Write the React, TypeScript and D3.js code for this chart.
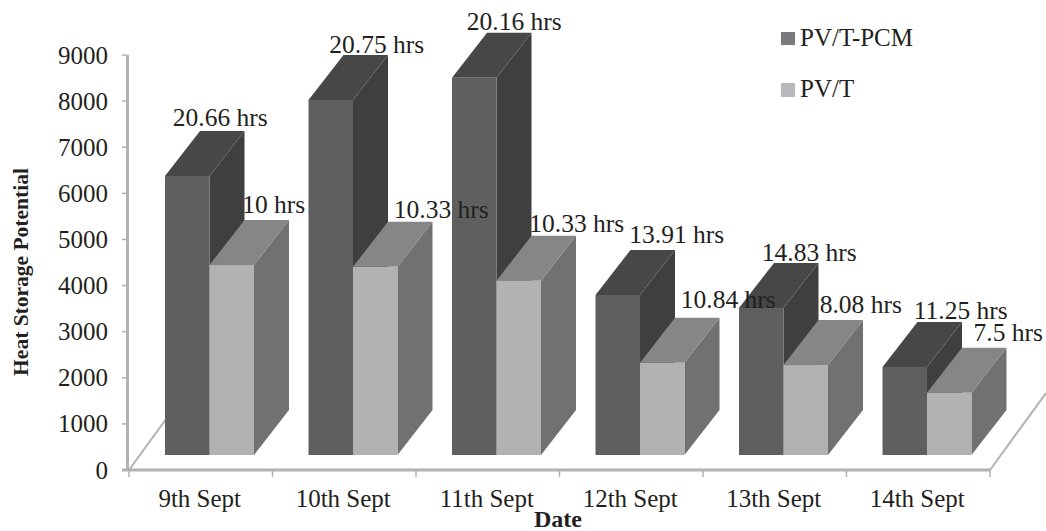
import React from "react";
import * as d3 from "d3";

const dates = ["9th Sept", "10th Sept", "11th Sept", "12th Sept", "13th Sept", "14th Sept"];
const pvtPcm = [6050, 7700, 8180, 3470, 3190, 1910];
const pvt = [4120, 4080, 3780, 2000, 1950, 1350];
const pvtPcmHours = ["20.66 hrs", "20.75 hrs", "20.16 hrs", "13.91 hrs", "14.83 hrs", "11.25 hrs"];
const pvtHours = ["10 hrs", "10.33 hrs", "10.33 hrs", "10.84 hrs", "8.08 hrs", "7.5 hrs"];
const yTicks = [0, 1000, 2000, 3000, 4000, 5000, 6000, 7000, 8000, 9000];

// Hand placement of the duration labels relative to the back edge of each bar top.
const pcmLabelShift: [number, number][] = [[-2, -5], [11, -2], [5, -3], [24, -7], [13, -2], [21, -3]];
const pvtLabelShift: [number, number][] = [[7, -7], [31, -4], [23, -4], [31, -10], [20, -7], [24, -7]];

const WIDTH = 1046;
const HEIGHT = 531;
const FONT = "'Liberation Serif', serif";
const AXIS_GREY = "#b2b2b2";
const DEPTH_X = 35;
const DEPTH_Y = 45;
const BAR_W = 44.5;

const PCM_COLORS = { front: "#5f5f5f", top: "#464847", side: "#3f3f3f" };
const PVT_COLORS = { front: "#b2b2b2", top: "#868686", side: "#717171" };
const LEGEND_COLORS = ["#7a7a7e", "#b8b8bc"];

const xAxis = d3.scaleBand<string>().domain(dates).range([129, 990]);
const yAxis = d3.scaleLinear().domain([0, 9000]).range([470, 55]);
const floorY = 455;
const barHeight = (v: number) => yAxis(0) - yAxis(v);
const barLeft = (d: string) => (xAxis(d) as number) + 36;

type Colors = typeof PCM_COLORS;

function Bar({ x, value, colors }: { x: number; value: number; colors: Colors }) {
  const top = floorY - barHeight(value);
  const r = x + BAR_W;
  const pts = (p: number[][]) => p.map((q) => q.join(",")).join(" ");
  return (
    <g>
      <polygon
        fill={colors.side}
        points={pts([[r, top], [r + DEPTH_X, top - DEPTH_Y], [r + DEPTH_X, floorY - DEPTH_Y], [r, floorY]])}
      />
      <polygon
        fill={colors.top}
        points={pts([[x, top], [x + DEPTH_X, top - DEPTH_Y], [r + DEPTH_X, top - DEPTH_Y], [r, top]])}
      />
      <rect x={x} y={top} width={BAR_W} height={barHeight(value)} fill={colors.front} />
    </g>
  );
}

export default function App() {
  const textStyle = { fontFamily: FONT, fill: "#231f20" };
  const labelFor = (i: number, value: number, offset: number, shift: [number, number]) => ({
    x: barLeft(dates[i]) + offset + BAR_W / 2 + DEPTH_X + shift[0],
    y: floorY - barHeight(value) - DEPTH_Y + shift[1],
  });
  return (
    <svg
      width={WIDTH}
      height={HEIGHT}
      style={{ position: "absolute", left: 0, top: 0, background: "#fff" }}
    >
      {/* Floor outline and axes */}
      <g stroke={AXIS_GREY} fill="none">
        <line x1={127.5} y1={yAxis(9000)} x2={127.5} y2={yAxis(0)} strokeWidth={3} />
        <line x1={122} y1={yAxis(0)} x2={990} y2={yAxis(0)} strokeWidth={3} />
        <line x1={129} y1={yAxis(0)} x2={185} y2={393} strokeWidth={2} />
        <line x1={990} y1={yAxis(0)} x2={1046} y2={393} strokeWidth={2} />
        {yTicks.map((t) => (
          <line key={t} x1={122} x2={127} y1={yAxis(t)} y2={yAxis(t)} strokeWidth={1.5} />
        ))}
        {[...dates.map((d) => xAxis(d) as number), 990].map((x) => (
          <line key={x} x1={x} x2={x} y1={yAxis(0)} y2={477} strokeWidth={1.5} />
        ))}
      </g>

      {/* Bars: the taller series sits left, its neighbour overlaps its side */}
      {dates.map((d, i) => (
        <g key={d}>
          <Bar x={barLeft(d)} value={pvtPcm[i]} colors={PCM_COLORS} />
          <Bar x={barLeft(d) + BAR_W} value={pvt[i]} colors={PVT_COLORS} />
        </g>
      ))}

      {/* Y tick labels */}
      <g style={textStyle} fontSize={25} textAnchor="end">
        {yTicks.map((t) => (
          <text key={t} x={108} y={yAxis(t) + 8.5}>{t}</text>
        ))}
      </g>

      {/* X tick labels */}
      <g style={textStyle} fontSize={25} textAnchor="middle">
        {dates.map((d) => (
          <text key={d} x={(xAxis(d) as number) + xAxis.bandwidth() / 2 - 1} y={507}>{d}</text>
        ))}
      </g>

      {/* Duration labels */}
      <g style={textStyle} fontSize={25.5} textAnchor="middle">
        {dates.map((d, i) => {
          const a = labelFor(i, pvtPcm[i], 0, pcmLabelShift[i]);
          const b = labelFor(i, pvt[i], BAR_W, pvtLabelShift[i]);
          return (
            <g key={d}>
              <text x={a.x} y={a.y}>{pvtPcmHours[i]}</text>
              <text x={b.x} y={b.y}>{pvtHours[i]}</text>
            </g>
          );
        })}
      </g>

      {/* Axis titles */}
      <text
        style={textStyle}
        fontSize={21.5}
        fontWeight="bold"
        textAnchor="middle"
        transform="translate(28,272) rotate(-90)"
      >
        Heat Storage Potential
      </text>
      <text style={textStyle} fontSize={24} fontWeight="bold" textAnchor="middle" x={558} y={527}>
        Date
      </text>

      {/* Legend */}
      <rect x={781} y={32} width={14} height={13} fill={LEGEND_COLORS[0]} />
      <rect x={781} y={83} width={14} height={14} fill={LEGEND_COLORS[1]} />
      <g style={textStyle} fontSize={25}>
        <text x={800} y={46}>PV/T-PCM</text>
        <text x={800} y={97}>PV/T</text>
      </g>
    </svg>
  );
}
